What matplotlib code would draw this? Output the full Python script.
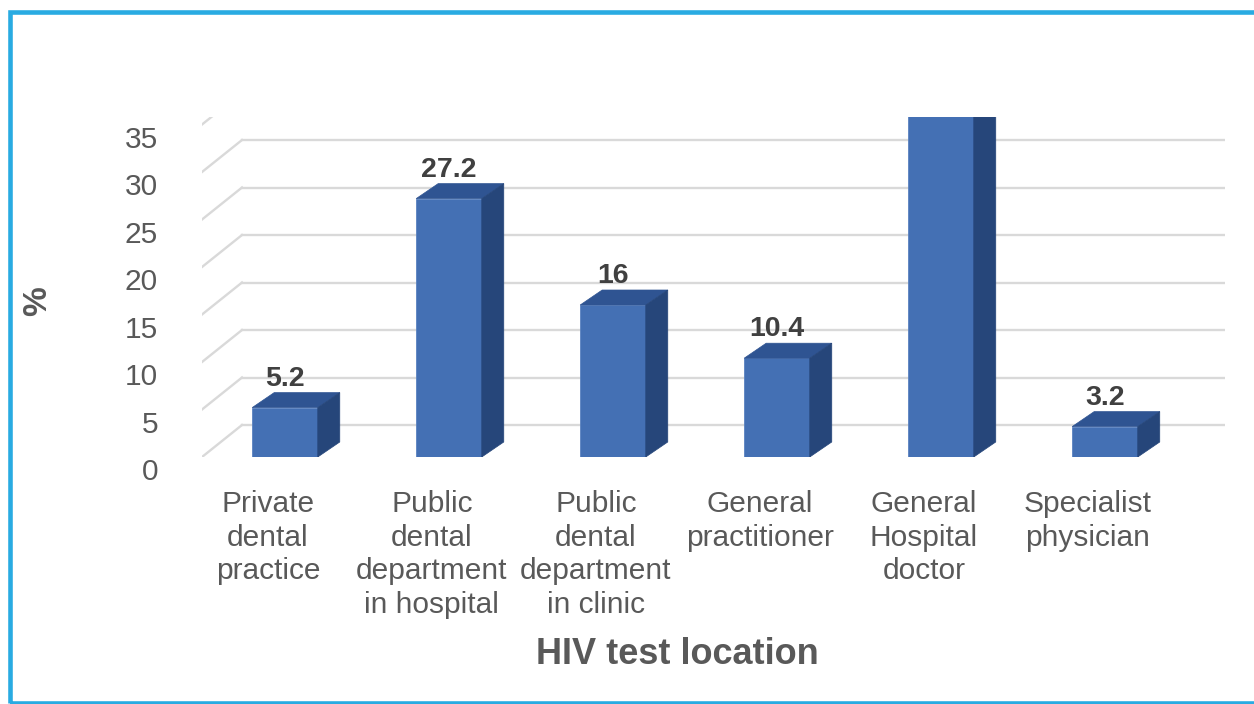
import numpy as np
import matplotlib
matplotlib.use("Agg")
import matplotlib.pyplot as plt
from matplotlib.patches import Polygon, Rectangle
from matplotlib.transforms import ScaledTranslation

# Dados do gráfico
categorias = ["Private\ndental\npractice",
              "Public\ndental\ndepartment\nin hospital",
              "Public\ndental\ndepartment\nin clinic",
              "General\npractitioner",
              "General\nHospital\ndoctor",
              "Specialist\nphysician"]
valores = [5.2, 27.2, 16, 10.4, 38, 3.2]
yticks = [0, 5, 10, 15, 20, 25, 30, 35]

plt.rcParams['font.family'] = ['Liberation Sans', 'DejaVu Sans']

W, H = 1254, 704
fig = plt.figure(figsize=(W / 100, H / 100), dpi=100)

# área do gráfico em pixels (frente do "piso" 3D)
px_l, px_r, px_top, px_bot = 202, 1225, 117, 457
ax = fig.add_axes([px_l / W, (H - px_bot) / H, (px_r - px_l) / W, (px_bot - px_top) / H])
ax.set_xlim(-0.506, 5.732)
ax.set_ylim(0, 35.79)
ax.axis("off")
ax.set_facecolor("none")

# profundidade do piso e das barras (em unidades de dados)
fdx, fdy = 40 / 164, 32 / 9.5
bdx, bdy = 22 / 164, 15 / 9.5
x0, x1 = -0.506, 5.732

cor_grade = "#D9D9D9"
for v in yticks:
    ax.plot([x0, x0 + fdx], [v, v + fdy], color=cor_grade, lw=1.7, zorder=1)
    ax.plot([x0 + fdx, x1], [v + fdy, v + fdy], color=cor_grade, lw=1.7, zorder=1)

# barras 3D
x = np.arange(len(valores))
larg = 0.4
cor_frente, cor_topo, cor_lado = "#4470B4", "#2F5492", "#26467A"
ax.bar(x, valores, width=larg, color=cor_frente, edgecolor="#5A82C0", lw=0.6, zorder=3)
y_max = ax.get_ylim()[1]
for xi, v in zip(x, valores):
    xl, xr = xi - larg / 2, xi + larg / 2
    topo = Polygon([(xl, v), (xr, v), (xr + bdx, v + bdy), (xl + bdx, v + bdy)],
                   closed=True, facecolor=cor_topo, edgecolor=cor_topo, lw=0.5, zorder=3)
    lado = Polygon([(xr, 0), (xr + bdx, bdy), (xr + bdx, v + bdy), (xr, v)],
                   closed=True, facecolor=cor_lado, edgecolor=cor_lado, lw=0.5, zorder=3)
    ax.add_patch(topo)
    ax.add_patch(lado)
    rot = ax.text(xi, v + bdy, f"{v:g}", ha="center", va="baseline", fontsize=20.5,
                  fontweight="bold", color="#404040", zorder=4)
    rot.set_transform(ax.transData + ScaledTranslation(0, 0.07, fig.dpi_scale_trans))
    # o rótulo da barra que passa do topo fica cortado, como no original
    rot.set_clip_on(v + bdy + 3 > y_max)

# eixo y (rótulos à esquerda, deslocados para baixo como no Excel)
for v in yticks:
    t = ax.text(x0, v, str(v), ha="right", va="center", fontsize=21.5, color="#595959")
    t.set_transform(ax.transData + ScaledTranslation(-0.44, -0.15, fig.dpi_scale_trans))

# rótulos das categorias
for xi, lab in zip(x, categorias):
    t = ax.text(xi - 0.104, 0, lab, ha="center", va="top", fontsize=21.5,
                color="#595959", linespacing=1.26)
    t.set_transform(ax.transData + ScaledTranslation(0, -0.33, fig.dpi_scale_trans))

fig.text(677 / W, 1 - 654 / H, "HIV test location", ha="center", va="center",
         fontsize=26, fontweight="bold", color="#595959")
fig.text(38 / W, 1 - 301 / H, "%", ha="center", va="center", rotation=90,
         fontsize=24, fontweight="bold", color="#595959")

# moldura azul
fig.patches.append(Rectangle((10 / W, 1 - 703 / H), 1.05, (703 - 12) / H,
                             transform=fig.transFigure, fill=False,
                             edgecolor="#29ABE2", lw=3.3, zorder=10))

fig.savefig("out.png", dpi=100)
